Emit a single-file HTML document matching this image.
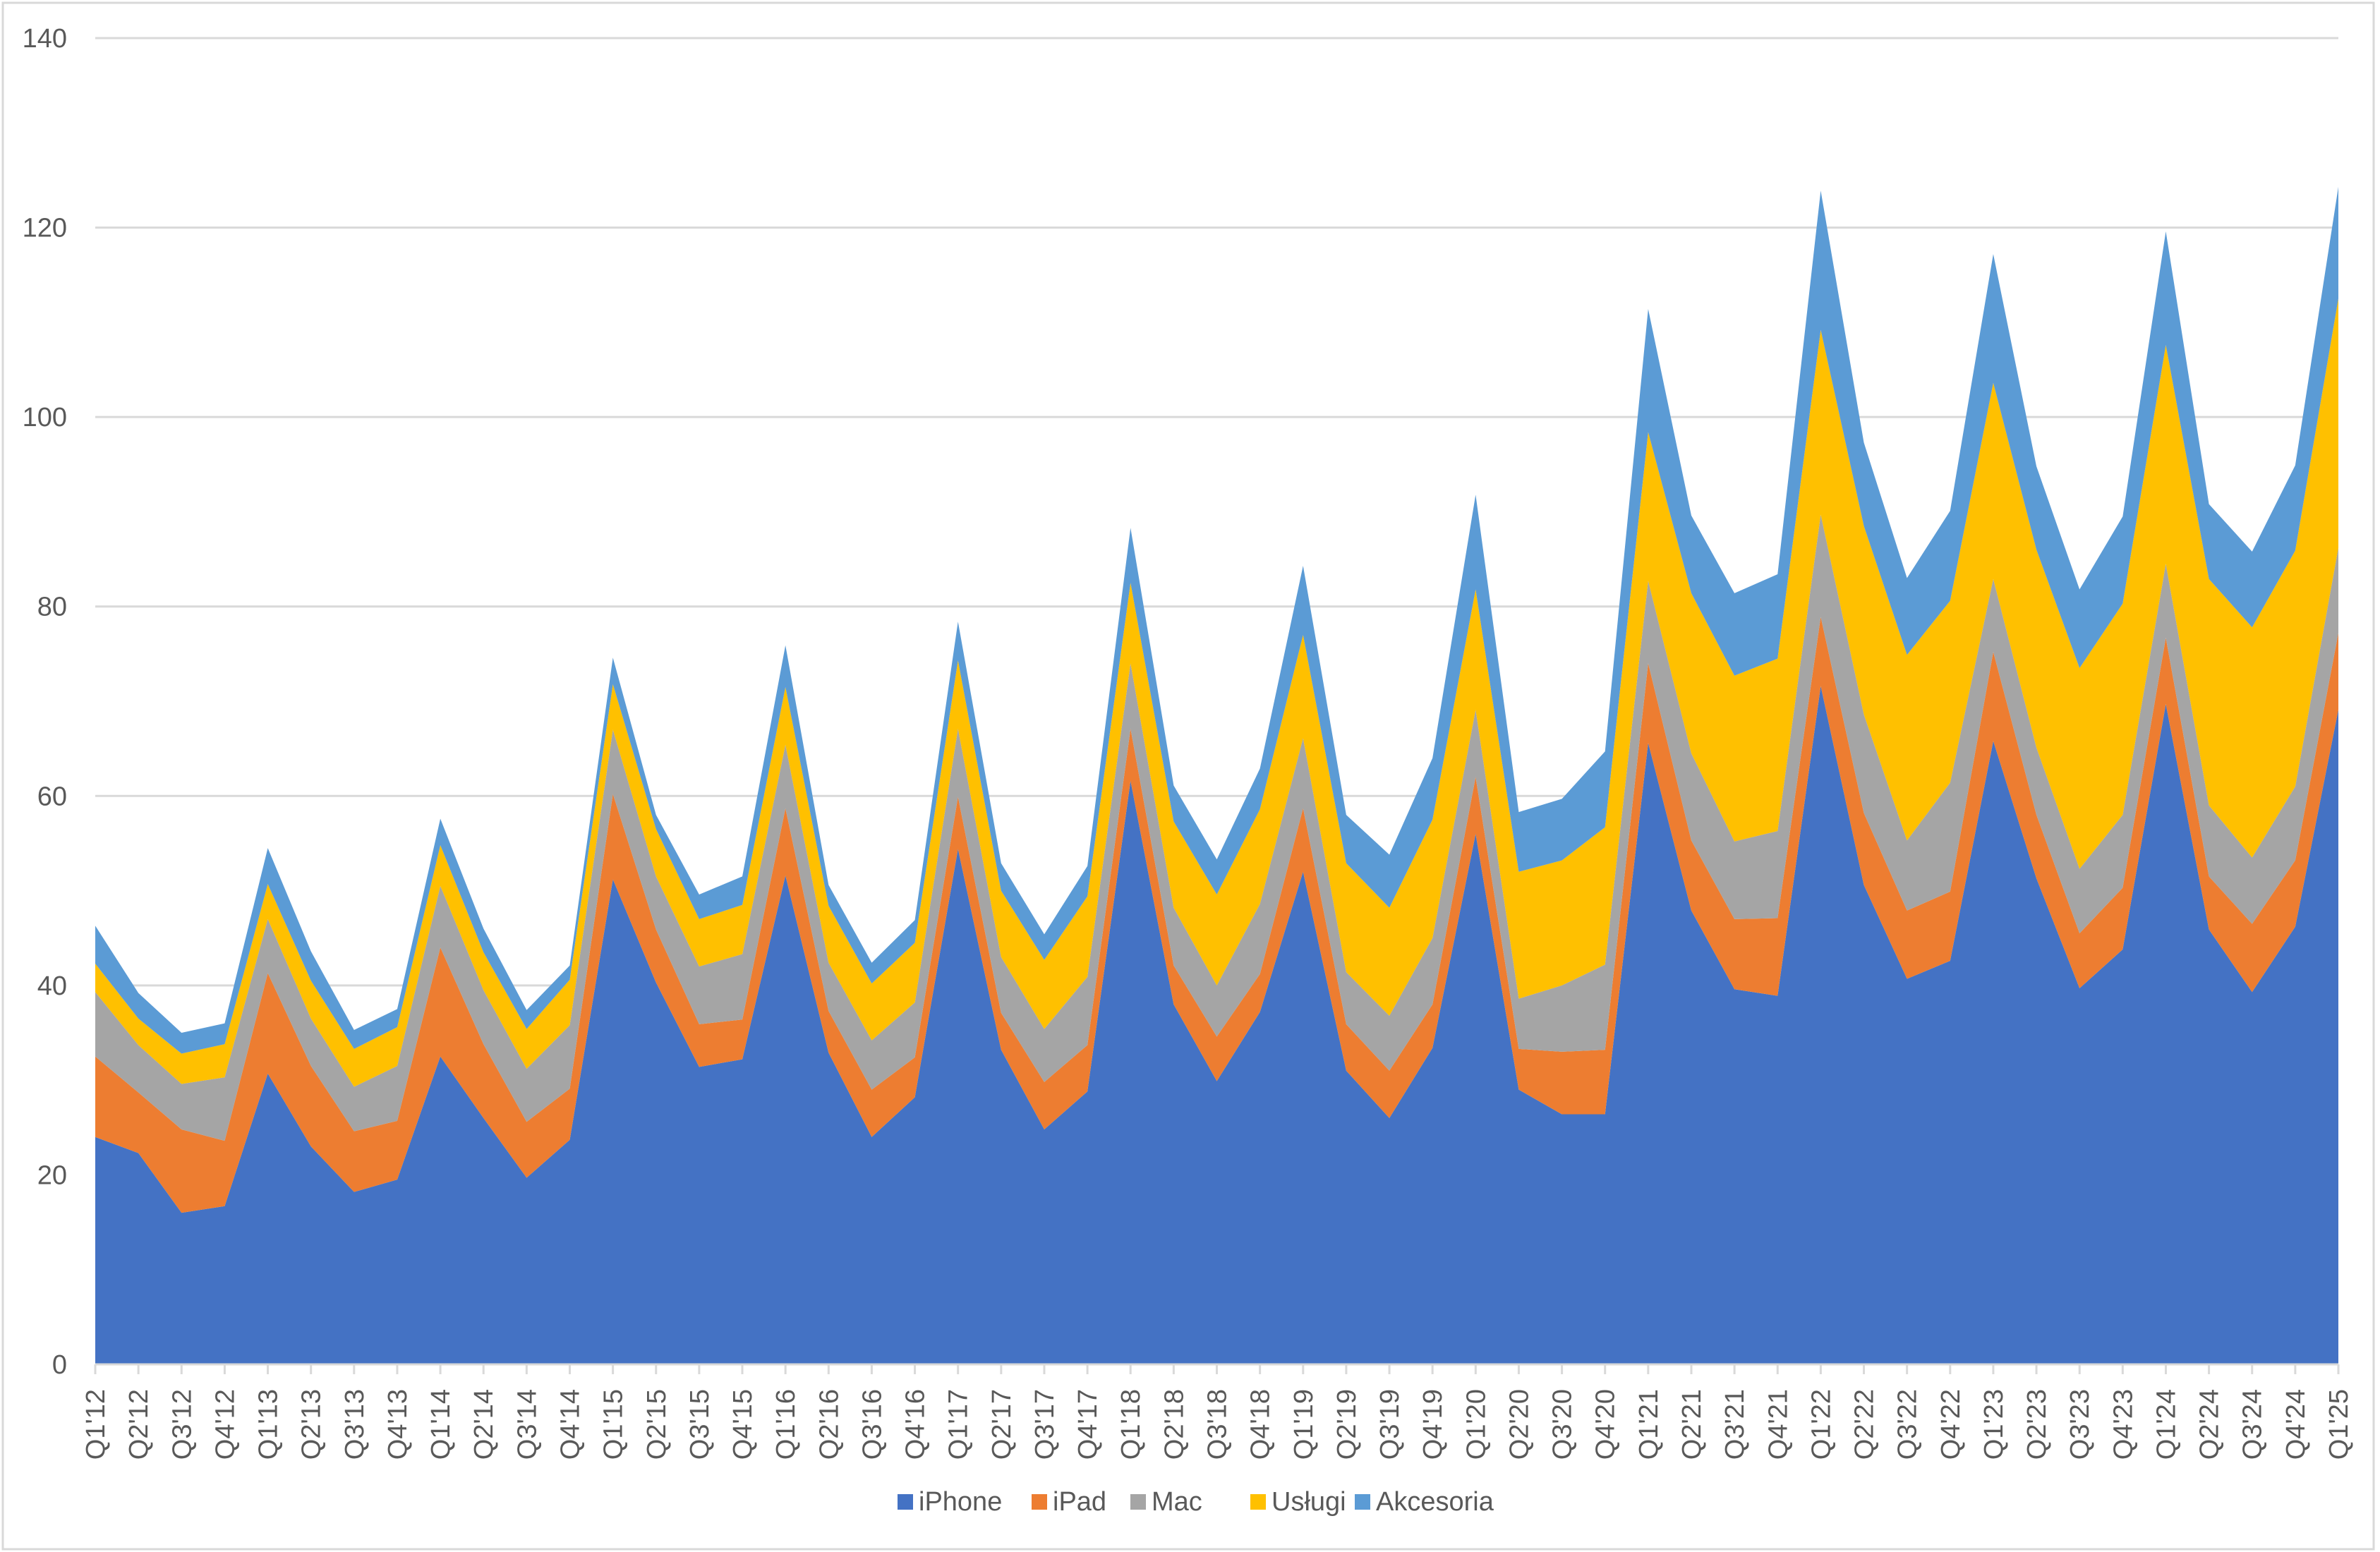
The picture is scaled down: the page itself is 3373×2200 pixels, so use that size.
<!DOCTYPE html>
<html><head><meta charset="utf-8"><style>
body{margin:0;background:#fff;}
svg{display:block;font-family:"Liberation Sans",sans-serif;}
</style></head><body>
<svg id="chart" width="3373" height="2200" viewBox="0 0 3373 2200" xmlns="http://www.w3.org/2000/svg">
<rect x="4" y="4" width="3360" height="2192" fill="#fff" stroke="#d9d9d9" stroke-width="3"/>
<g id="grid"></g><g id="areas"></g><g id="axes"></g><g id="legend"></g>
</svg>
<script>
const categories=["Q1'12","Q2'12","Q3'12","Q4'12","Q1'13","Q2'13","Q3'13","Q4'13","Q1'14","Q2'14","Q3'14","Q4'14","Q1'15","Q2'15","Q3'15","Q4'15","Q1'16","Q2'16","Q3'16","Q4'16","Q1'17","Q2'17","Q3'17","Q4'17","Q1'18","Q2'18","Q3'18","Q4'18","Q1'19","Q2'19","Q3'19","Q4'19","Q1'20","Q2'20","Q3'20","Q4'20","Q1'21","Q2'21","Q3'21","Q4'21","Q1'22","Q2'22","Q3'22","Q4'22","Q1'23","Q2'23","Q3'23","Q4'23","Q1'24","Q2'24","Q3'24","Q4'24","Q1'25"];
const iphone=[24,22.3,16,16.7,30.7,23,18.2,19.5,32.5,26,19.7,23.7,51.2,40.3,31.4,32.2,51.6,32.9,24,28.2,54.4,33.2,24.8,28.8,61.6,38,29.9,37.2,52,31,26,33.4,56,29,26.4,26.4,65.6,47.9,39.6,38.9,71.6,50.6,40.7,42.6,65.8,51.3,39.7,43.8,69.7,45.9,39.3,46.2,69.1];
const ipad=[8.5,6.4,8.8,6.9,10.6,8.5,6.4,6.2,11.5,7.8,5.9,5.4,9,5.6,4.5,4.2,7.1,4.4,5,4.2,5.5,3.9,5,4.9,5.5,4.1,4.7,4,6.7,4.9,5,4.6,6,4.3,6.6,6.8,8.4,7.4,7.4,8.2,7.3,7.6,7.2,7.3,9.4,6.7,5.8,6.5,7,5.6,7.2,7,8.1];
const mac=[6.8,5,4.8,6.7,5.7,5,4.7,5.8,6.5,5.7,5.6,6.7,6.8,5.6,6.1,6.9,6.7,5.1,5.2,5.8,7.2,5.9,5.6,7.2,6.9,6.1,5.4,7.4,7.4,5.5,5.8,7,7.1,5.3,7,9,8.7,9.2,8.2,9.2,10.8,10.4,7.4,11.5,7.7,7.1,6.8,7.7,7.8,7.5,7,7.8,9];
const uslugi=[3,2.8,3.2,3.5,3.7,4,4,4.1,4.3,4,4.2,4.8,4.8,5,5,5.2,6.1,6,6,6.3,7.2,7,7.3,8.5,8.5,9.1,9.6,10,10.9,11.5,11.4,12.5,12.7,13.4,13.2,14.5,15.7,16.9,17.5,18.2,19.5,19.9,19.6,19.2,20.7,20.9,21.2,22.3,23.1,23.9,24.3,24.9,26.3];
const akcesoria=[4,2.7,2.2,2.2,3.8,3.1,2,1.9,2.8,2.5,2,1.5,2.8,1.5,2.6,3,4.4,2.2,2.2,2.4,4.1,2.9,2.7,3.2,5.8,3.8,3.7,4.3,7.3,5.1,5.6,6.5,10,6.3,6.5,8,13,8.2,8.7,8.9,14.7,8.8,8.1,9.5,13.6,8.8,8.3,9.2,12,7.9,8,9,11.8];
const yTicks=[0,20,40,60,80,100,120,140];
const seriesNames=["iPhone","iPad","Mac","Usługi","Akcesoria"];

const NS="http://www.w3.org/2000/svg";
const X0=135,X1=3314,Y0=1934,Y1=54,YMAX=140;
const colors=["#4472c4","#ed7d31","#a5a5a5","#ffc000","#5b9bd5"];
const series=[iphone,ipad,mac,uslugi,akcesoria];
const xs=i=>X0+(X1-X0)*i/(categories.length-1);
const ys=v=>Y0-(Y0-Y1)*v/YMAX;
function mk(tag,attrs,parent){const e=document.createElementNS(NS,tag);for(const k in attrs)e.setAttribute(k,attrs[k]);parent.appendChild(e);return e;}
const grid=document.getElementById('grid'),areas=document.getElementById('areas'),axes=document.getElementById('axes'),legend=document.getElementById('legend');
yTicks.forEach(t=>{
  if(t>0){const l=mk('line',{x1:X0,x2:X1,y1:ys(t),y2:ys(t),stroke:'#d9d9d9','stroke-width':3},grid);
  
  }
  const tx=mk('text',{x:X0-40,y:ys(t)+13,'text-anchor':'end','font-size':38,fill:'#595959'},axes);
  tx.textContent=t;
  
  
});
let base=categories.map(()=>0);
series.forEach((s,k)=>{
  const top=base.map((b,i)=>b+s[i]);
  let d='M'+categories.map((c,i)=>xs(i)+','+ys(top[i])).join(' L');
  for(let i=categories.length-1;i>=0;i--)d+=' L'+xs(i)+','+ys(base[i]);
  d+='Z';
  const p=mk('path',{d:d,fill:colors[k]},areas);
  
  
  base=top;
});
const ax=mk('line',{x1:X0,x2:X1,y1:Y0,y2:Y0,stroke:'#d9d9d9','stroke-width':3},axes);


categories.forEach((c,i)=>{
  const t=mk('line',{x1:xs(i),x2:xs(i),y1:Y0,y2:Y0+14,stroke:'#d9d9d9','stroke-width':3},axes);
  
  
  const tx=mk('text',{x:0,y:0,'text-anchor':'end','font-size':38,fill:'#595959',transform:`translate(${xs(i)+13},${Y0+35}) rotate(-90)`},axes);
  tx.textContent=c;
  
  
});
const lx=[1272,1462,1602,1772,1920];
seriesNames.forEach((n,k)=>{
  const g=mk('g',{},legend);
  
  
  mk('rect',{x:lx[k],y:2118,width:22,height:22,fill:colors[k]},g);
  const t=mk('text',{x:lx[k]+30,y:2141,'font-size':38,fill:'#595959'},g);
  t.textContent=n;
});
</script>
</body></html>
